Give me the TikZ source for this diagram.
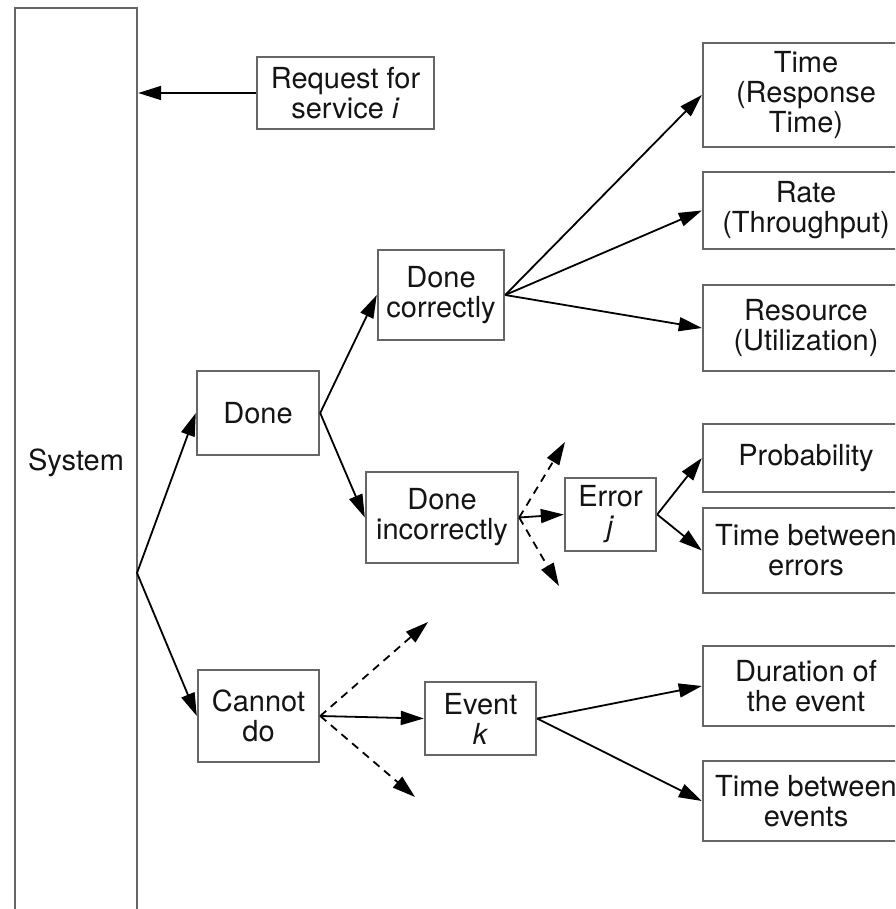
\documentclass[tikz,border=0pt]{standalone}
\usepackage{fontspec}
\setmainfont{TeX Gyre Heros}
\usetikzlibrary{arrows.meta}

\tikzset{
  box/.style={draw=black!60, line width=2.4pt, rectangle, inner sep=0pt,
              align=center, text=black!92,
              font=\fontsize{29}{30}\selectfont},
  flow/.style={draw=black, line width=1.8pt,
               -{Triangle[length=23pt, width=14pt]}},
  maybe/.style={flow, dash pattern=on 8pt off 6pt},
}

\begin{document}
\begin{tikzpicture}[x=1pt, y=-1pt]
  \useasboundingbox (0,0) rectangle (895,909);
  \clip (0,0) rectangle (895,909);
  \fill[white] (0,0) rectangle (895,909);

  % system column, open at the bottom edge
  \node[box, minimum width=122pt, minimum height=910pt] (system) at (76,463) {System};

  % request entering the system
  \node[box, minimum width=177pt, minimum height=72pt] (request) at (345.5,93)
    {Request for\\service \textit{i}};

  % outcomes of a request
  \node[box, minimum width=122pt, minimum height=84pt] (done)   at (258,413)   {Done};
  \node[box, minimum width=121pt, minimum height=92pt] (cannot) at (258.5,716) {Cannot\\do};
  \node[box, minimum width=126pt, minimum height=90pt] (donec)  at (441,295)   {Done\\correctly};
  \node[box, minimum width=152pt, minimum height=91pt] (donei)  at (442,517.5) {Done\\incorrectly};
  \node[box, minimum width=91pt,  minimum height=73pt] (err)    at (610.5,514.5) {Error\\\textit{j}};
  \node[box, minimum width=111pt, minimum height=73pt] (event)  at (480.5,718.5) {Event\\\textit{k}};

  % performance metrics
  \node[box, minimum width=206pt, minimum height=104pt] (time)     at (806,95)    {Time\\(Response\\Time)};
  \node[box, minimum width=206pt, minimum height=77pt]  (rate)     at (806,210.5) {Rate\\(Throughput)};
  \node[box, minimum width=206pt, minimum height=86pt]  (resource) at (806,328)   {Resource\\(Utilization)};
  \node[box, minimum width=206pt, minimum height=68pt]  (prob)     at (806,458)   {Probability};
  \node[box, minimum width=206pt, minimum height=85pt]  (tberr)    at (806,550.5) {Time between\\errors};
  \node[box, minimum width=206pt, minimum height=80pt]  (duration) at (806,686)   {Duration of\\the event};
  \node[box, minimum width=206pt, minimum height=80pt]  (tbev)     at (806,801)   {Time between\\events};

  % branching points and open-ended alternatives
  \coordinate (sysfork) at (137,573);
  \coordinate (ierrup)  at (565,442);
  \coordinate (ierrdn)  at (559,586);
  \coordinate (evup)    at (428,622);
  \coordinate (evdn)    at (415,797);

  % connectors
  \draw[flow] (request.west) -- (request.west -| system.east);
  \draw[flow] (sysfork) -- (done.west);
  \draw[flow] (sysfork) -- (cannot.west);
  \draw[flow] (done.east) -- (donec.west);
  \draw[flow] (done.east) -- (donei.west);

  \draw[flow] (donec.east) -- (time.west);
  \draw[flow] (donec.east) -- (rate.west);
  \draw[flow] (donec.east) -- (resource.west);

  \draw[flow]  (donei.east) -- (err.west);
  \draw[maybe] (donei.east) -- (ierrup);
  \draw[maybe] (donei.east) -- (ierrdn);
  \draw[flow] (err.east) -- (prob.west);
  \draw[flow] (err.east) -- (tberr.west);

  \draw[flow]  (cannot.east) -- (event.west);
  \draw[maybe] (cannot.east) -- (evup);
  \draw[maybe] (cannot.east) -- (evdn);
  \draw[flow] (event.east) -- (duration.west);
  \draw[flow] (event.east) -- (tbev.west);
\end{tikzpicture}
\end{document}
